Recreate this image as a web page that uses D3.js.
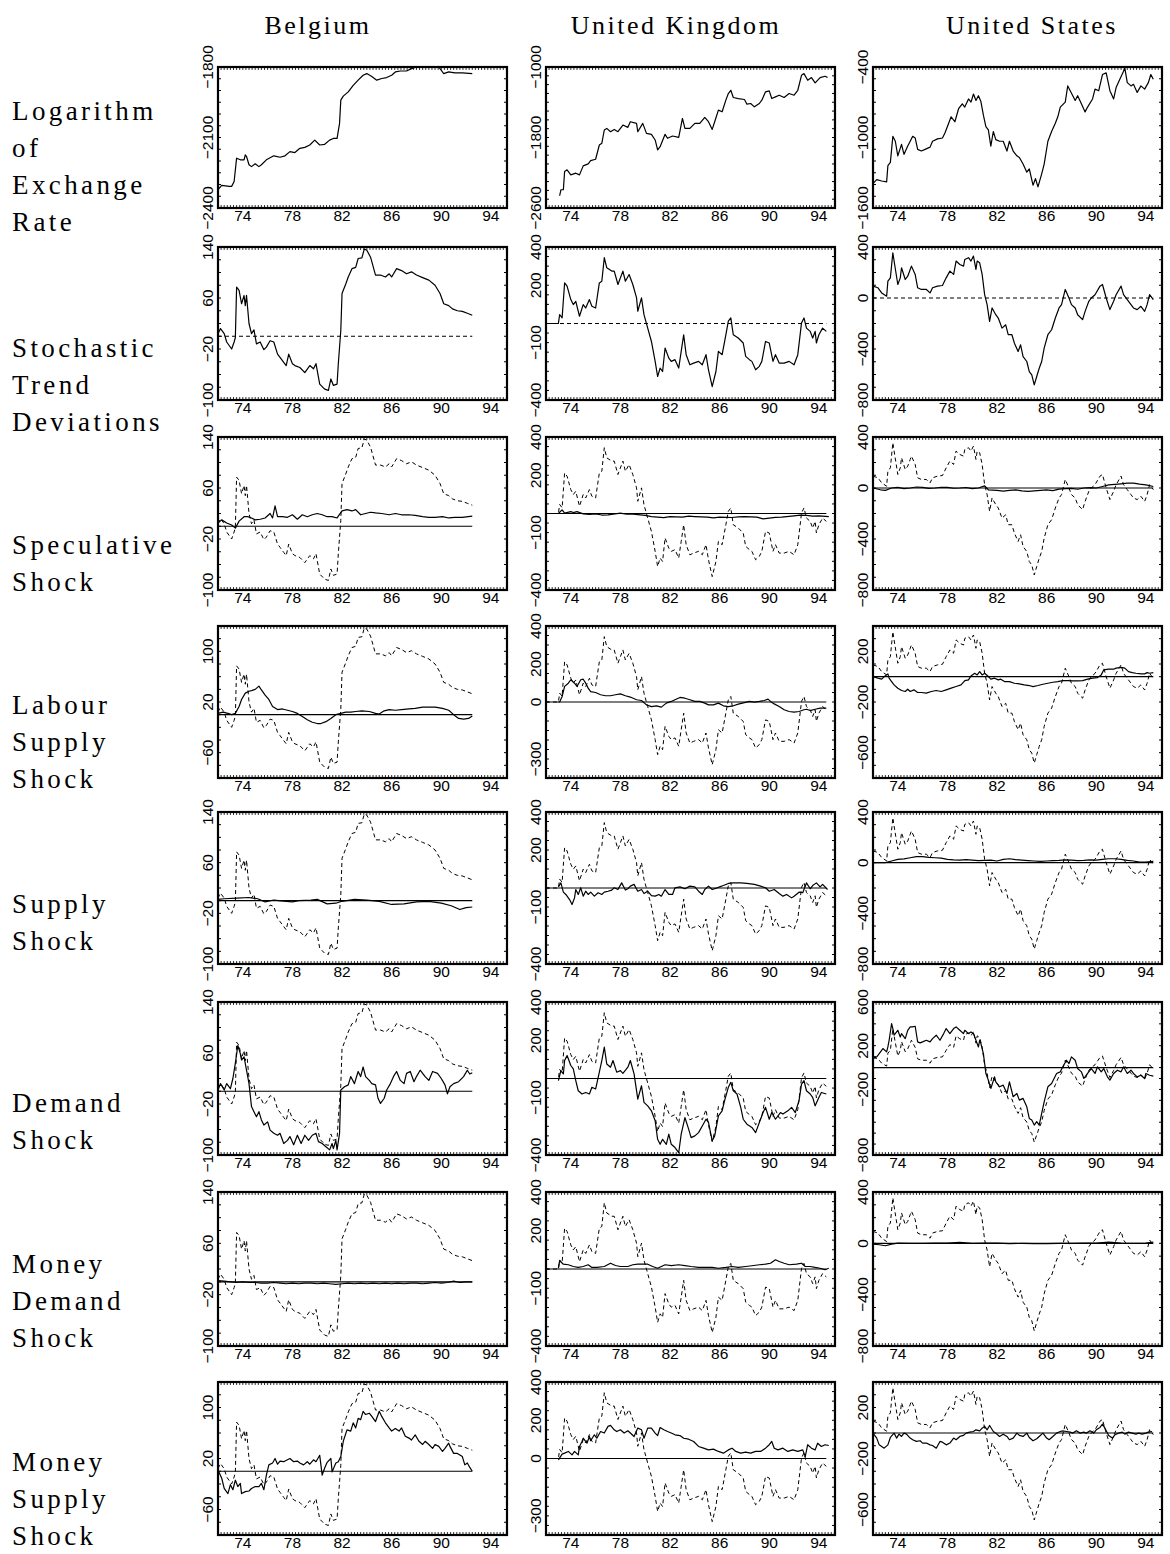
<!DOCTYPE html>
<html>
<head>
<meta charset="utf-8">
<script src="https://cdn.jsdelivr.net/npm/d3@7"></script>
<style>
  body { margin: 0; background: #fff; }
  svg { display: block; }
  .tick-label { font-family: "Liberation Sans", Arial, sans-serif; font-size: 15.5px; fill: #000; }
  .title-label { font-family: "Liberation Serif", "Times New Roman", serif; font-size: 26px; letter-spacing: 2.5px; fill: #000; }
  .row-label { font-family: "Liberation Serif", "Times New Roman", serif; font-size: 27px; letter-spacing: 3.4px; fill: #000; }
</style>
</head>
<body>
<svg id="chart" width="1170" height="1554"></svg>
<script>
// column titles and row labels
var countries = ["Belgium", "United Kingdom", "United States"];
var rowNames = [
  ["Logarithm", "of", "Exchange", "Rate"],
  ["Stochastic", "Trend", "Deviations"],
  ["Speculative", "Shock"],
  ["Labour", "Supply", "Shock"],
  ["Supply", "Shock"],
  ["Demand", "Shock"],
  ["Money", "Demand", "Shock"],
  ["Money", "Supply", "Shock"]
];
var xTickYears = [74, 78, 82, 86, 90, 94];
var yearDomain = [72, 95.3];

// y tick labels and ranges
var beRateTicks = [-2400, -2100, -1800], beRateDomain = [-2400, -1800];
var ukRateTicks = [-2600, -1800, -1000], ukRateDomain = [-2600, -1000];
var usRateTicks = [-1600, -1000, -400], usRateDomain = [-1600, -400];
var beTicks = [-100, -20, 60, 140], beTicksAlt = [-60, 20, 100], beDomain = [-100, 140];
var ukTicks = [-400, -100, 200, 400], ukTicksAlt = [-300, 0, 200, 400], ukDomain = [-400, 400];
var usTicks = [-800, -400, 0, 400], usTicksAlt = [-600, -200, 200], usDomain = [-800, 400];
var usTicksDem = [-800, -200, 200, 600], usDemDomain = [-800, 600];

// Belgium
var beRate = [[72.0,-2322],[72.3,-2304],[72.9,-2308],[73.1,-2308],[73.3,-2287],[73.5,-2188],[73.8,-2195],[74.1,-2195],[74.2,-2174],[74.3,-2181],[74.5,-2216],[74.7,-2224],[75.0,-2212],[75.3,-2224],[75.5,-2216],[75.9,-2195],[76.5,-2178],[77.0,-2184],[77.4,-2178],[77.8,-2160],[78.2,-2164],[78.6,-2146],[79.0,-2142],[79.4,-2132],[79.8,-2111],[80.2,-2132],[80.6,-2129],[81.0,-2111],[81.3,-2104],[81.6,-2104],[81.8,-2040],[81.9,-1941],[82.1,-1924],[82.5,-1906],[82.9,-1878],[83.3,-1856],[83.7,-1835],[84.0,-1828],[84.4,-1840],[84.8,-1856],[85.2,-1849],[85.6,-1845],[86.0,-1835],[86.3,-1821],[86.7,-1817],[87.2,-1817],[87.6,-1807],[88.0,-1800],[88.9,-1800],[89.8,-1800],[90.2,-1828],[90.6,-1821],[91.1,-1825],[91.7,-1825],[92.5,-1828]];
var beDev = [[72.0,4],[72.2,12],[72.5,4],[72.7,-9],[73.1,-20],[73.3,-9],[73.4,-2],[73.5,77],[73.7,72],[73.9,51],[74.1,64],[74.2,48],[74.3,64],[74.5,20],[74.7,4],[74.9,10],[75.1,-12],[75.4,-9],[75.7,-21],[75.9,-17],[76.2,-7],[76.5,-9],[76.8,-28],[77.0,-33],[77.3,-41],[77.5,-46],[77.7,-28],[78.0,-43],[78.2,-46],[78.6,-49],[79.0,-57],[79.4,-46],[79.7,-51],[79.9,-43],[80.2,-75],[80.6,-83],[80.9,-85],[81.1,-67],[81.3,-77],[81.6,-75],[81.7,-43],[81.9,9],[82.0,67],[82.3,82],[82.5,93],[82.8,106],[83.1,108],[83.3,122],[83.6,123],[83.8,137],[84.0,135],[84.3,124],[84.7,96],[85.1,96],[85.5,93],[85.8,98],[86.0,93],[86.4,106],[86.8,103],[87.2,98],[87.6,101],[88.0,96],[88.5,92],[89.0,88],[89.5,80],[89.9,67],[90.2,51],[90.6,48],[90.9,43],[91.3,40],[91.7,39],[92.1,36],[92.5,33]];
var beSpec = [[72.0,5],[72.3,10],[72.7,5],[73.1,2],[73.4,-3],[73.7,8],[74.1,15],[74.4,15],[74.7,13],[75.0,10],[75.4,11],[75.8,13],[76.2,20],[76.4,13],[76.6,32],[76.8,15],[77.2,15],[77.6,14],[78.0,18],[78.4,11],[78.8,18],[79.2,15],[79.6,18],[80.0,20],[80.4,18],[80.8,15],[81.2,15],[81.6,13],[82.0,24],[82.4,26],[82.8,24],[83.1,26],[83.5,18],[83.9,20],[84.3,22],[84.7,21],[85.2,20],[85.8,18],[86.3,20],[86.8,18],[87.4,18],[87.9,17],[88.5,15],[89.0,14],[89.5,14],[90.1,15],[90.6,13],[91.1,14],[91.7,14],[92.5,16]];
var beLab = [[72.0,2],[72.4,4],[72.8,2],[73.1,0],[73.4,2],[73.7,13],[73.9,24],[74.2,34],[74.5,37],[74.7,38],[75.0,40],[75.3,45],[75.5,39],[75.8,31],[76.1,24],[76.4,13],[76.8,8],[77.2,9],[77.6,7],[78.0,5],[78.4,2],[78.8,-3],[79.2,-8],[79.6,-12],[80.0,-14],[80.3,-14],[80.7,-11],[81.1,-6],[81.5,0],[81.9,2],[82.3,4],[82.7,4],[83.1,5],[83.6,6],[84.2,5],[84.7,2],[85.0,1],[85.4,6],[85.8,8],[86.3,7],[86.8,8],[87.4,9],[87.9,10],[88.5,12],[89.0,12],[89.5,12],[90.1,10],[90.6,7],[91.0,0],[91.4,-6],[91.8,-7],[92.2,-6],[92.5,-2]];
var beSup = [[72.0,2],[72.5,3],[73.5,4],[74.5,5],[75.2,3],[75.8,-2],[76.5,1],[77.5,-1],[78.0,-2],[78.5,0],[79.5,1],[80.0,2],[80.8,-5],[81.5,-4],[82.0,-1],[83.0,2],[84.0,1],[85.0,-1],[86.0,-6],[87.0,-5],[88.0,-2],[89.0,-1],[90.0,-4],[90.8,-8],[91.5,-14],[92.0,-11],[92.5,-10]];
var beDem = [[72.0,2],[72.2,12],[72.5,2],[72.7,12],[73.0,4],[73.2,20],[73.4,44],[73.6,72],[73.8,59],[73.9,49],[74.1,54],[74.3,33],[74.5,12],[74.7,-24],[74.9,-32],[75.1,-40],[75.3,-32],[75.5,-45],[75.7,-53],[76.0,-48],[76.2,-61],[76.5,-66],[76.8,-69],[77.0,-66],[77.3,-82],[77.6,-77],[77.8,-71],[78.1,-84],[78.4,-69],[78.7,-82],[79.0,-69],[79.3,-77],[79.6,-69],[79.9,-66],[80.1,-79],[80.4,-82],[80.7,-87],[81.0,-92],[81.2,-82],[81.3,-90],[81.5,-77],[81.6,-92],[81.8,-66],[81.9,2],[82.2,7],[82.5,10],[82.7,23],[83.0,12],[83.3,31],[83.5,23],[83.7,38],[83.9,23],[84.2,17],[84.4,12],[84.7,10],[84.9,-11],[85.1,-19],[85.4,-11],[85.6,2],[85.9,12],[86.2,25],[86.4,31],[86.7,17],[87.0,12],[87.2,28],[87.5,31],[87.8,15],[88.0,23],[88.3,33],[88.7,23],[89.0,17],[89.3,31],[89.7,28],[90.0,20],[90.3,10],[90.5,-4],[90.7,7],[91.0,12],[91.4,15],[91.8,23],[92.1,33],[92.3,27],[92.5,29]];
var beMDem = [[72.0,2],[72.5,1],[73.0,0],[73.5,-1],[74.0,0],[74.5,-1],[75.0,-1],[75.5,-2],[76.0,-2],[76.5,-1],[77.0,-2],[77.5,-3],[78.0,-2],[78.5,-3],[79.0,-2],[79.5,-2],[80.0,-3],[80.5,-2],[81.0,-3],[81.5,-4],[82.0,-3],[82.5,-2],[83.0,-3],[83.5,-2],[84.0,-3],[84.5,-2],[85.0,-3],[85.5,-2],[86.0,-3],[86.5,-2],[87.0,-3],[87.5,-2],[88.0,-2],[88.5,-3],[89.0,-2],[89.5,-1],[90.0,-2],[90.5,-1],[91.0,1],[91.5,-1],[92.0,0],[92.5,0]];
var beMSup = [[72.0,2],[72.3,-11],[72.5,-27],[72.8,-35],[73.0,-21],[73.2,-29],[73.4,-14],[73.6,-24],[73.8,-19],[73.9,-35],[74.2,-32],[74.5,-31],[74.7,-27],[75.0,-24],[75.3,-24],[75.5,-19],[75.7,-29],[75.9,-6],[76.1,10],[76.4,13],[76.6,20],[76.8,11],[77.0,16],[77.3,15],[77.6,18],[77.8,20],[78.1,15],[78.4,16],[78.6,13],[78.9,10],[79.2,15],[79.4,11],[79.7,18],[79.9,15],[80.2,25],[80.4,-6],[80.6,5],[80.8,14],[81.1,20],[81.2,-1],[81.5,13],[81.7,15],[81.9,23],[82.1,47],[82.4,65],[82.7,63],[82.9,76],[83.1,68],[83.3,83],[83.5,81],[83.7,94],[83.9,89],[84.2,91],[84.4,86],[84.7,78],[85.0,94],[85.2,86],[85.5,76],[85.8,68],[86.0,63],[86.3,67],[86.6,63],[86.8,68],[87.1,55],[87.4,52],[87.6,49],[87.9,57],[88.2,47],[88.5,42],[88.7,47],[89.0,42],[89.3,36],[89.5,42],[89.8,39],[90.1,31],[90.3,36],[90.6,44],[90.7,39],[91.0,28],[91.3,28],[91.7,23],[91.9,10],[92.1,13],[92.3,6],[92.5,0]];

// United Kingdom
var ukRate = [[73.1,-2461],[73.2,-2393],[73.4,-2393],[73.5,-2186],[73.7,-2167],[74.0,-2224],[74.4,-2205],[74.7,-2224],[75.0,-2122],[75.4,-2099],[75.6,-2062],[76.0,-2047],[76.3,-1885],[76.5,-1866],[76.7,-1715],[76.9,-1697],[77.2,-1734],[77.5,-1708],[77.8,-1734],[78.2,-1659],[78.6,-1685],[78.8,-1621],[79.3,-1640],[79.4,-1734],[79.8,-1640],[80.1,-1753],[80.5,-1764],[80.8,-1828],[81.0,-1941],[81.2,-1904],[81.6,-1764],[81.8,-1809],[82.2,-1783],[82.7,-1798],[83.0,-1584],[83.2,-1697],[83.6,-1697],[84.0,-1640],[84.4,-1640],[84.8,-1572],[85.1,-1621],[85.4,-1708],[85.6,-1621],[85.9,-1489],[86.2,-1508],[86.5,-1376],[86.7,-1301],[86.9,-1264],[87.1,-1346],[87.5,-1358],[88.0,-1369],[88.2,-1422],[88.5,-1414],[88.8,-1452],[89.2,-1414],[89.4,-1376],[89.7,-1282],[90.0,-1271],[90.2,-1358],[90.5,-1339],[90.8,-1320],[91.2,-1346],[91.6,-1301],[92.0,-1320],[92.3,-1264],[92.6,-1094],[92.8,-1075],[93.1,-1151],[93.4,-1120],[93.7,-1181],[94.1,-1120],[94.5,-1105],[94.7,-1120]];
var ukDev = [[72.0,0],[73.0,0],[73.1,47],[73.3,30],[73.5,212],[73.7,195],[74.0,125],[74.2,99],[74.4,116],[74.7,38],[75.0,99],[75.2,81],[75.5,125],[75.7,90],[76.0,81],[76.3,212],[76.5,221],[76.7,344],[76.9,291],[77.3,274],[77.5,274],[77.8,204],[78.2,274],[78.4,221],[78.7,256],[79.0,204],[79.3,134],[79.4,64],[79.7,134],[79.9,46],[80.2,-24],[80.5,-94],[80.8,-198],[81.0,-277],[81.2,-233],[81.4,-251],[81.6,-128],[81.9,-181],[82.1,-198],[82.4,-189],[82.7,-233],[82.9,-146],[83.1,-59],[83.3,-163],[83.6,-216],[83.9,-207],[84.3,-198],[84.6,-216],[84.9,-163],[85.1,-242],[85.4,-330],[85.7,-251],[85.9,-146],[86.2,-163],[86.5,-59],[86.7,12],[86.9,29],[87.1,-59],[87.5,-76],[87.9,-102],[88.1,-172],[88.4,-189],[88.6,-198],[88.9,-242],[89.2,-224],[89.4,-198],[89.7,-94],[90.0,-102],[90.3,-198],[90.5,-163],[90.8,-207],[91.2,-207],[91.6,-198],[92.0,-216],[92.3,-163],[92.6,3],[92.8,29],[93.0,-24],[93.3,-41],[93.5,-76],[93.7,-41],[93.8,-102],[94.0,-59],[94.3,-24],[94.6,-41]];
var ukSpec = [[73.0,0],[73.3,19],[73.5,2],[74.0,10],[74.2,5],[74.5,10],[75.0,-2],[75.5,-5],[76.0,-2],[76.5,-8],[77.0,-7],[78.0,2],[78.5,-4],[79.0,-3],[80.0,-10],[80.5,-16],[81.0,-19],[81.5,-22],[82.0,-16],[83.0,-19],[83.5,-14],[84.0,-16],[85.0,-19],[85.5,-23],[86.0,-19],[87.0,-21],[87.5,-18],[88.0,-16],[89.0,-19],[89.5,-28],[90.0,-24],[90.5,-20],[91.0,-19],[92.0,-12],[92.5,-8],[93.0,-10],[93.5,-14],[94.0,-12],[94.8,-16]];
var ukLab = [[73.0,0],[73.1,0],[73.3,29],[73.5,82],[73.8,99],[74.0,117],[74.3,99],[74.5,82],[74.8,117],[75.0,120],[75.2,99],[75.4,73],[75.6,55],[76.0,50],[76.4,38],[76.8,33],[77.2,33],[77.6,38],[78.0,43],[78.4,33],[78.8,26],[79.3,12],[79.7,8],[80.1,-15],[80.5,-24],[80.9,-20],[81.3,-27],[81.7,-6],[82.1,3],[82.4,12],[82.8,24],[83.2,20],[83.6,12],[84.0,3],[84.4,3],[84.8,-6],[85.1,-15],[85.5,-15],[85.9,-6],[86.3,-20],[86.7,-24],[87.1,-20],[87.5,-11],[88.0,-3],[88.4,3],[88.8,-1],[89.2,3],[89.6,8],[89.9,15],[90.1,3],[90.4,-10],[90.8,-24],[91.2,-41],[91.6,-50],[92.0,-53],[92.4,-50],[92.8,-41],[93.0,-38],[93.3,-45],[93.7,-38],[94.1,-32],[94.6,-32]];
var ukSup = [[73.0,6],[73.2,27],[73.4,-22],[73.6,-34],[73.9,-61],[74.1,-87],[74.3,-52],[74.4,-8],[74.6,-34],[74.8,1],[75.0,-43],[75.2,-17],[75.4,-34],[75.6,-22],[75.9,-43],[76.2,-25],[76.5,-34],[76.7,-22],[77.0,-17],[77.3,-11],[77.5,1],[77.8,-8],[78.1,27],[78.4,-11],[78.6,-4],[78.8,10],[79.1,19],[79.4,-17],[79.7,-8],[79.9,-29],[80.2,-17],[80.5,-40],[80.8,-43],[81.1,-34],[81.3,-43],[81.6,-8],[81.9,-34],[82.2,-34],[82.4,1],[82.8,6],[83.2,-4],[83.6,10],[84.0,6],[84.3,-17],[84.6,-34],[84.8,-8],[85.1,10],[85.4,-8],[85.8,1],[86.0,6],[86.3,13],[86.7,24],[87.1,27],[87.7,27],[88.2,24],[88.8,19],[89.3,10],[89.7,1],[90.0,-17],[90.4,-8],[90.8,-29],[91.1,-43],[91.4,-34],[91.8,-52],[92.0,-43],[92.4,-22],[92.7,-25],[93.0,27],[93.3,-4],[93.5,13],[93.8,27],[94.1,6],[94.3,19],[94.7,-8]];
var ukDem = [[73.0,-11],[73.2,41],[73.4,24],[73.5,94],[73.7,120],[74.0,68],[74.2,50],[74.4,-11],[74.6,-64],[74.9,-81],[75.2,-73],[75.5,-81],[75.7,-46],[76.0,-55],[76.3,33],[76.5,94],[76.7,164],[76.9,76],[77.2,59],[77.4,94],[77.7,33],[78.0,41],[78.2,27],[78.6,59],[78.8,94],[79.1,24],[79.4,-108],[79.7,-38],[79.9,-125],[80.2,-143],[80.5,-169],[80.8,-221],[81.0,-318],[81.2,-344],[81.4,-318],[81.7,-344],[81.9,-291],[82.1,-344],[82.4,-361],[82.7,-388],[82.9,-291],[83.2,-204],[83.5,-265],[83.7,-309],[84.0,-300],[84.3,-283],[84.6,-248],[84.9,-213],[85.1,-230],[85.4,-326],[85.6,-300],[85.9,-195],[86.2,-169],[86.4,-116],[86.7,-46],[86.9,-20],[87.1,-64],[87.4,-81],[87.7,-151],[87.9,-213],[88.2,-239],[88.6,-256],[88.9,-283],[89.2,-230],[89.5,-178],[89.7,-151],[90.0,-213],[90.2,-178],[90.5,-213],[90.9,-178],[91.1,-186],[91.5,-169],[91.8,-151],[92.1,-178],[92.4,-116],[92.6,-29],[92.8,-11],[93.0,-64],[93.3,-81],[93.5,-99],[93.7,-143],[94.0,-99],[94.2,-73],[94.6,-81]];
var ukMDem = [[73.0,4],[73.1,43],[73.4,25],[73.8,22],[74.2,13],[74.6,8],[75.0,13],[75.4,22],[75.7,8],[76.1,8],[76.7,13],[77.2,30],[77.6,18],[78.0,13],[78.6,13],[79.0,22],[79.4,25],[79.8,25],[80.2,25],[80.6,13],[81.0,4],[81.6,22],[82.1,18],[82.7,22],[83.2,18],[83.7,13],[84.3,8],[84.8,8],[85.4,8],[85.9,4],[86.5,8],[87.0,13],[87.5,8],[88.1,13],[88.6,17],[89.2,22],[89.7,25],[90.1,30],[90.5,48],[90.8,39],[91.2,30],[91.6,22],[92.2,25],[92.6,30],[92.9,13],[93.3,13],[93.7,8],[94.1,4],[94.5,-4],[94.8,4]];
var ukMSup = [[73.0,-7],[73.3,23],[73.5,28],[73.8,37],[74.1,19],[74.3,37],[74.6,19],[74.7,63],[74.9,89],[75.0,106],[75.3,80],[75.5,115],[75.6,93],[75.9,124],[76.1,106],[76.4,141],[76.7,133],[77.0,168],[77.2,173],[77.5,150],[77.7,141],[78.0,150],[78.3,133],[78.6,145],[78.8,133],[79.1,115],[79.4,159],[79.7,150],[79.9,106],[80.2,159],[80.5,159],[80.8,133],[81.0,120],[81.2,162],[81.5,150],[81.8,141],[82.1,133],[82.4,124],[82.8,120],[83.1,106],[83.5,101],[83.9,89],[84.3,63],[84.7,54],[85.1,45],[85.5,49],[85.9,37],[86.3,28],[86.7,45],[87.0,54],[87.3,37],[87.7,28],[88.1,33],[88.5,28],[88.9,37],[89.3,37],[89.7,54],[90.0,72],[90.2,89],[90.4,54],[90.7,45],[91.1,54],[91.5,37],[91.9,45],[92.3,37],[92.7,45],[92.9,10],[93.1,72],[93.4,54],[93.7,45],[93.9,80],[94.2,63],[94.5,72],[94.8,68]];

// United States
var usRate = [[72.0,-1392],[72.3,-1359],[72.7,-1370],[73.1,-1378],[73.2,-1240],[73.4,-1212],[73.6,-990],[73.8,-1032],[74.0,-1156],[74.3,-1059],[74.5,-1143],[74.8,-1073],[75.0,-1032],[75.2,-990],[75.4,-1004],[75.6,-1101],[75.9,-1115],[76.2,-1101],[76.6,-1082],[76.8,-1032],[77.2,-1012],[77.6,-1004],[77.8,-962],[78.1,-879],[78.3,-824],[78.6,-866],[78.9,-755],[79.2,-713],[79.4,-741],[79.7,-672],[79.9,-699],[80.1,-630],[80.3,-685],[80.5,-644],[80.7,-694],[80.9,-810],[81.1,-907],[81.3,-935],[81.5,-1073],[81.7,-949],[81.9,-1018],[82.2,-1032],[82.5,-1032],[82.8,-1115],[83.0,-1032],[83.3,-1115],[83.6,-1156],[83.8,-1170],[84.1,-1226],[84.4,-1295],[84.6,-1267],[84.9,-1406],[85.1,-1350],[85.3,-1420],[85.6,-1309],[85.8,-1226],[86.1,-1032],[86.4,-949],[86.7,-879],[86.9,-824],[87.1,-741],[87.5,-699],[87.7,-561],[87.9,-602],[88.3,-685],[88.5,-644],[88.8,-713],[89.1,-782],[89.3,-741],[89.7,-672],[89.9,-588],[90.2,-602],[90.5,-464],[90.8,-450],[91.1,-602],[91.4,-672],[91.6,-575],[91.9,-505],[92.2,-436],[92.3,-408],[92.5,-533],[92.8,-561],[93.0,-547],[93.3,-616],[93.6,-561],[93.9,-588],[94.2,-533],[94.4,-464],[94.6,-505]];
var usDev = [[72.0,93],[72.4,80],[72.7,40],[73.1,14],[73.2,132],[73.4,158],[73.6,355],[73.7,290],[74.0,106],[74.2,158],[74.3,237],[74.6,145],[74.8,171],[75.0,224],[75.1,250],[75.4,185],[75.6,80],[75.9,67],[76.3,67],[76.6,40],[76.8,80],[77.2,93],[77.6,98],[77.9,158],[78.2,211],[78.5,185],[78.7,290],[79.0,263],[79.3,250],[79.4,302],[79.7,316],[79.9,290],[80.1,329],[80.3,224],[80.4,290],[80.6,276],[80.8,185],[81.0,26],[81.2,-52],[81.4,-183],[81.6,-78],[81.9,-131],[82.1,-157],[82.4,-236],[82.7,-210],[82.9,-288],[83.2,-288],[83.4,-354],[83.7,-419],[83.9,-367],[84.1,-459],[84.4,-498],[84.6,-577],[84.8,-603],[85.0,-682],[85.2,-616],[85.4,-551],[85.6,-498],[85.8,-393],[86.1,-288],[86.4,-249],[86.7,-157],[87.0,-78],[87.2,-52],[87.5,67],[87.8,0],[88.0,-52],[88.3,-78],[88.5,-131],[88.9,-170],[89.1,-105],[89.4,-26],[89.6,0],[89.9,26],[90.3,93],[90.5,106],[90.8,0],[91.1,-91],[91.4,-26],[91.6,26],[92.0,93],[92.2,26],[92.5,-13],[92.8,-52],[93.0,-78],[93.3,-91],[93.6,-65],[93.9,-105],[94.1,-52],[94.3,26],[94.6,-13]];
var usSpec = [[72.0,0],[72.6,-14],[73.0,-19],[73.5,0],[74.0,5],[74.5,-5],[75.0,0],[75.5,8],[76.0,5],[76.5,-3],[77.0,0],[77.5,6],[78.0,5],[78.5,-2],[79.0,0],[79.5,4],[80.0,-5],[80.5,0],[81.0,17],[81.3,-14],[82.0,-19],[82.5,-25],[83.0,-19],[83.5,-14],[84.0,-22],[84.5,-27],[85.0,-22],[85.5,-18],[86.0,-14],[86.5,-20],[87.0,-9],[87.5,-5],[88.0,-3],[88.5,-10],[89.0,0],[89.5,3],[90.0,0],[90.5,12],[91.0,25],[92.0,33],[92.5,38],[93.0,38],[93.5,30],[94.0,25],[94.6,12]];
var usLab = [[72.0,0],[72.4,-12],[72.7,-20],[72.9,0],[73.2,22],[73.3,-12],[73.5,-39],[73.7,-65],[74.0,-91],[74.3,-109],[74.6,-117],[74.8,-99],[75.0,-117],[75.3,-104],[75.6,-125],[75.9,-125],[76.3,-130],[76.7,-117],[77.1,-109],[77.5,-117],[77.9,-104],[78.3,-91],[78.7,-78],[79.1,-65],[79.4,-31],[79.7,-25],[79.9,6],[80.2,27],[80.4,14],[80.6,40],[80.8,14],[81.0,27],[81.3,1],[81.5,-20],[81.8,-12],[82.1,-25],[82.3,-20],[82.6,-39],[83.0,-39],[83.4,-52],[83.8,-57],[84.2,-65],[84.6,-70],[84.9,-78],[85.3,-70],[85.7,-60],[86.1,-52],[86.5,-44],[86.9,-39],[87.3,-31],[87.7,-31],[88.1,-33],[88.5,-33],[88.9,-31],[89.3,-20],[89.7,-12],[90.1,-7],[90.4,14],[90.6,53],[91.0,59],[91.4,59],[91.6,67],[92.0,74],[92.3,67],[92.6,40],[92.9,32],[93.2,27],[93.6,22],[93.9,22],[94.1,32],[94.3,27],[94.6,32]];
var usSup = [[72.0,0],[73.0,0],[73.5,13],[74.0,26],[74.5,30],[75.0,39],[75.5,47],[76.0,47],[76.5,42],[77.0,39],[77.5,36],[78.0,26],[78.5,22],[79.0,20],[79.5,24],[80.0,20],[80.5,16],[81.0,18],[81.5,20],[82.0,13],[82.5,26],[83.0,31],[83.5,24],[84.0,20],[84.5,16],[85.0,13],[85.5,10],[86.0,13],[86.5,16],[87.0,18],[87.5,22],[88.0,20],[88.5,16],[89.0,18],[89.5,22],[90.0,20],[90.5,26],[91.0,31],[91.5,31],[92.0,26],[92.5,18],[93.0,13],[93.5,5],[94.0,5],[94.6,10]];
var usDem = [[72.0,83],[72.3,98],[72.5,128],[72.8,174],[73.1,144],[73.2,189],[73.3,250],[73.5,402],[73.6,357],[73.7,296],[74.0,341],[74.2,280],[74.3,311],[74.6,265],[74.8,341],[75.0,372],[75.2,372],[75.4,378],[75.6,235],[75.8,226],[76.0,235],[76.3,250],[76.6,235],[76.8,265],[77.1,296],[77.4,250],[77.7,311],[77.9,357],[78.2,311],[78.5,357],[78.7,372],[79.0,341],[79.3,311],[79.4,341],[79.7,311],[79.9,326],[80.1,311],[80.3,250],[80.5,189],[80.6,250],[80.7,220],[80.9,128],[81.0,37],[81.1,-54],[81.3,-115],[81.5,-191],[81.8,-85],[81.9,-130],[82.2,-176],[82.5,-161],[82.8,-237],[83.0,-130],[83.3,-267],[83.6,-237],[83.8,-298],[84.1,-282],[84.4,-359],[84.6,-465],[84.8,-480],[85.0,-526],[85.2,-495],[85.4,-526],[85.6,-419],[85.8,-313],[86.1,-176],[86.4,-146],[86.8,-54],[87.1,-39],[87.3,7],[87.6,67],[87.8,37],[88.0,98],[88.3,67],[88.5,-9],[88.8,-39],[89.0,-100],[89.3,-54],[89.6,-9],[89.9,-54],[90.1,7],[90.4,-39],[90.6,-9],[90.9,-85],[91.1,-115],[91.4,-54],[91.7,-24],[92.0,-39],[92.2,7],[92.5,-54],[92.8,-24],[93.0,-54],[93.3,-85],[93.6,-70],[93.9,-100],[94.0,-54],[94.3,-70],[94.6,-79]];
var usMDem = [[72.0,-6],[72.5,-11],[73.0,-19],[73.5,-6],[74.0,2],[75.0,0],[76.0,0],[77.0,2],[78.0,2],[79.0,7],[80.0,0],[81.0,2],[82.0,2],[83.0,-3],[84.0,0],[85.0,-3],[86.0,-3],[87.0,0],[88.0,0],[89.0,2],[90.0,2],[91.0,10],[92.0,2],[93.0,0],[94.0,2],[94.6,10]];
var usMSup = [[72.0,-1],[72.3,-40],[72.5,-93],[72.9,-119],[73.2,-93],[73.4,-35],[73.7,-1],[73.9,-40],[74.1,-9],[74.3,-27],[74.5,-1],[74.7,-9],[75.0,-40],[75.2,-53],[75.5,-66],[75.8,-61],[76.0,-79],[76.3,-79],[76.6,-93],[76.8,-98],[77.1,-119],[77.4,-66],[77.6,-72],[77.9,-93],[78.2,-79],[78.5,-40],[78.7,-53],[79.0,-27],[79.3,-19],[79.5,-1],[79.8,7],[80.1,12],[80.3,25],[80.6,17],[80.8,38],[81.0,52],[81.2,25],[81.4,59],[81.7,12],[81.9,-1],[82.2,-27],[82.5,-9],[82.8,-27],[83.0,-53],[83.3,-40],[83.6,-1],[83.8,-19],[84.1,-27],[84.4,-1],[84.6,-35],[84.9,-61],[85.2,-45],[85.4,-27],[85.7,-1],[86.0,-40],[86.2,-53],[86.5,-27],[86.8,-1],[87.1,12],[87.3,17],[87.6,12],[87.9,7],[88.1,-1],[88.4,17],[88.7,-1],[89.0,7],[89.2,-1],[89.5,17],[89.8,-1],[90.0,25],[90.3,44],[90.5,70],[90.7,38],[91.0,-19],[91.3,-40],[91.5,-14],[91.8,-1],[92.1,7],[92.3,-9],[92.6,7],[92.9,-1],[93.2,-9],[93.4,-1],[93.7,-9],[94.0,-1],[94.2,7],[94.5,12]];

// layout
var colLeft = [218, 546, 873], colWidth = 289;
var rowTop = [67, 247, 437, 626, 812, 1002, 1192, 1382];
var rowHeight = [141, 153, 153, 152, 152, 153, 154, 153];
var titleX = [318, 676, 1032];
var labelFirstBaseline = [120, 357, 554, 714, 913, 1112, 1273, 1471];
var labelLineHeight = 37;

// panel table built from the arrays above
var columns = [
  { rate: beRate, dev: beDev, shocks: [beSpec, beLab, beSup, beDem, beMDem, beMSup],
    rateDomain: beRateDomain, rateTicks: beRateTicks, domain: beDomain, ticks: beTicks, altTicks: beTicksAlt },
  { rate: ukRate, dev: ukDev, shocks: [ukSpec, ukLab, ukSup, ukDem, ukMDem, ukMSup],
    rateDomain: ukRateDomain, rateTicks: ukRateTicks, domain: ukDomain, ticks: ukTicks, altTicks: ukTicksAlt },
  { rate: usRate, dev: usDev, shocks: [usSpec, usLab, usSup, usDem, usMDem, usMSup],
    rateDomain: usRateDomain, rateTicks: usRateTicks, domain: usDomain, ticks: usTicks, altTicks: usTicksAlt }
];

var svg = d3.select("#chart");

function fmt(v) {
  return v < 0 ? "\u2212" + Math.abs(v) : String(v);
}

// column titles
svg.selectAll("text.title")
  .data(countries)
  .enter().append("text")
    .attr("class", "title-label")
    .attr("x", function(d, i) { return titleX[i]; })
    .attr("y", 34)
    .attr("text-anchor", "middle")
    .text(function(d) { return d; });

// row labels
rowNames.forEach(function(lines, r) {
  svg.append("text")
      .attr("class", "row-label")
    .selectAll("tspan")
    .data(lines)
    .enter().append("tspan")
      .attr("x", 12)
      .attr("y", function(d, i) { return labelFirstBaseline[r] + i * labelLineHeight; })
      .text(function(d) { return d; });
});

columns.forEach(function(col, c) {
  for (var r = 0; r < 8; r++) {
    var domain, ticks, solid, dashed = null, zero = null;
    if (r === 0) {
      domain = col.rateDomain; ticks = col.rateTicks; solid = col.rate;
    } else if (r === 1) {
      domain = col.domain; ticks = col.ticks; solid = col.dev; zero = "dash";
    } else {
      domain = col.domain; ticks = col.ticks; solid = col.shocks[r - 2]; dashed = col.dev; zero = "solid";
      if (r === 3 || r === 7) ticks = col.altTicks;
      if (c === 2 && r === 5) { domain = usDemDomain; ticks = usTicksDem; }
    }
    drawPanel(colLeft[c], rowTop[r], colWidth, rowHeight[r], domain, ticks, solid, dashed, zero);
  }
});

function drawPanel(left, top, width, height, domain, ticks, solid, dashed, zero) {
  var x = d3.scaleLinear().domain(yearDomain).range([left, left + width]);
  var y = d3.scaleLinear().domain(domain).range([top + height, top]);
  var g = svg.append("g");

  var line = d3.line()
      .x(function(d) { return x(d[0]); })
      .y(function(d) { return y(d[1]); });

  var seriesEnd = d3.max((dashed || solid), function(d) { return d[0]; });

  if (zero) {
    g.append("line")
        .attr("x1", x(yearDomain[0])).attr("x2", x(seriesEnd))
        .attr("y1", y(0)).attr("y2", y(0))
        .attr("stroke", "#000")
        .attr("stroke-width", zero === "dash" ? 1 : 1.2)
        .attr("stroke-dasharray", zero === "dash" ? "4,3" : null);
  }
  if (dashed) {
    g.append("path")
        .datum(dashed)
        .attr("d", line)
        .attr("fill", "none")
        .attr("stroke", "#000")
        .attr("stroke-width", 1)
        .attr("stroke-dasharray", "4,3");
  }
  g.append("path")
      .datum(solid)
      .attr("d", line)
      .attr("fill", "none")
      .attr("stroke", "#000")
      .attr("stroke-width", 1.2)
      .attr("stroke-linejoin", "round");

  // minor ticks on the frame, one per quarter
  var xMinor = d3.range(72.25, yearDomain[1], 0.25);
  g.selectAll("line.xt")
    .data(xMinor)
    .enter().append("line")
      .attr("x1", function(d) { return x(d); }).attr("x2", function(d) { return x(d); })
      .attr("y1", top).attr("y2", top + 3)
      .attr("stroke", "#000").attr("stroke-width", 0.8);
  g.selectAll("line.xb")
    .data(xMinor)
    .enter().append("line")
      .attr("x1", function(d) { return x(d); }).attr("x2", function(d) { return x(d); })
      .attr("y1", top + height).attr("y2", top + height - 3)
      .attr("stroke", "#000").attr("stroke-width", 0.8);

  var yMinor = y.ticks(12);
  g.selectAll("line.yl")
    .data(yMinor)
    .enter().append("line")
      .attr("x1", left).attr("x2", left + 3)
      .attr("y1", function(d) { return y(d); }).attr("y2", function(d) { return y(d); })
      .attr("stroke", "#000").attr("stroke-width", 1);
  g.selectAll("line.yr")
    .data(yMinor)
    .enter().append("line")
      .attr("x1", left + width).attr("x2", left + width - 3)
      .attr("y1", function(d) { return y(d); }).attr("y2", function(d) { return y(d); })
      .attr("stroke", "#000").attr("stroke-width", 1);

  g.append("rect")
      .attr("x", left).attr("y", top)
      .attr("width", width).attr("height", height)
      .attr("fill", "none")
      .attr("stroke", "#000")
      .attr("stroke-width", 2.2);

  // x tick labels
  g.selectAll("text.xl")
    .data(xTickYears)
    .enter().append("text")
      .attr("class", "tick-label")
      .attr("x", function(d) { return x(d); })
      .attr("y", top + height + 13)
      .attr("text-anchor", "middle")
      .text(function(d) { return d; });

  // y tick labels, rotated
  g.selectAll("text.yl")
    .data(ticks)
    .enter().append("text")
      .attr("class", "tick-label")
      .attr("transform", function(d) { return "translate(" + (left - 11) + "," + y(d) + ") rotate(-90)"; })
      .attr("text-anchor", "middle")
      .attr("dominant-baseline", "central")
      .text(fmt);
}
</script>
</body>
</html>
